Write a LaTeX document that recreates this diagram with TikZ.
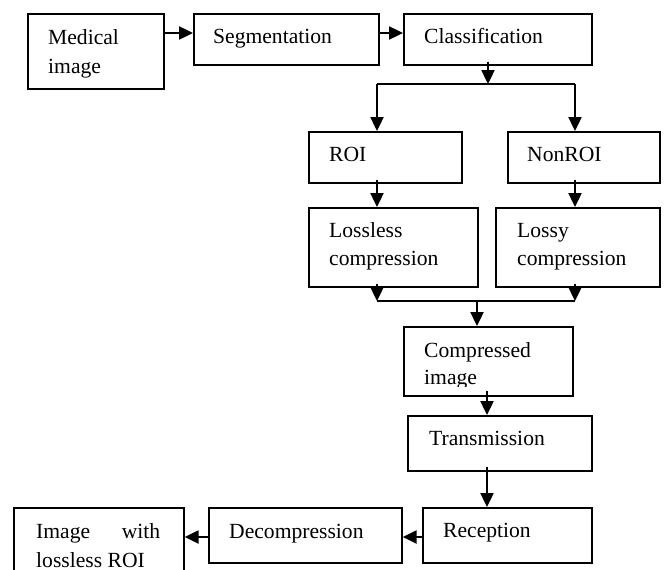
\documentclass[tikz,border=0pt]{standalone}
\usepackage{fontspec}
\setmainfont{Liberation Serif}
\usetikzlibrary{arrows.meta,calc}
\begin{document}
\begin{tikzpicture}[x=1pt,y=-1pt,
  box/.style={draw,line width=1.7pt,inner sep=0pt,anchor=north west},
  txt/.style={anchor=base west,inner sep=0pt,font=\fontsize{21.6}{28}\selectfont},
  conn/.style={line width=2.4pt},
  arr/.style={conn,-{Triangle[length=14pt,width=13pt]}}]
\useasboundingbox[fill=white] (0,0) rectangle (667,570);
% boxes
\node[box,minimum width=136pt,minimum height=75pt] (med) at (27,13) {};
\node[box,minimum width=185pt,minimum height=51pt] (seg) at (193,13) {};
\node[box,minimum width=188pt,minimum height=51pt] (cls) at (403,13) {};
\node[box,minimum width=153pt,minimum height=51pt] (roi) at (308,131) {};
\node[box,minimum width=152pt,minimum height=51pt] (nonroi) at (507,131) {};
\node[box,minimum width=169pt,minimum height=79pt] (lossless) at (308,207) {};
\node[box,minimum width=164pt,minimum height=79pt] (lossy) at (495,207) {};
\node[box,minimum width=169pt,minimum height=69pt] (comp) at (403,326) {};
\node[box,minimum width=184pt,minimum height=55pt] (trans) at (407,415) {};
\node[box,minimum width=169pt,minimum height=55pt] (rec) at (422,507) {};
\node[box,minimum width=193pt,minimum height=55pt] (dec) at (208,507) {};
\node[box,minimum width=170pt,minimum height=75pt] (out) at (13,507) {};
% texts
\node[txt] (tmed1) at (48,45) {Medical};
\node[txt] (tmed2) at (48,73) {image};
\node[txt] (tseg) at (213,43) {Segmentation};
\node[txt] (tcls) at (424,43) {Classification};
\node[txt] (troi) at (329,161) {ROI};
\node[txt] (tnon) at (527,161) {NonROI};
\node[txt] (tll1) at (329,237) {Lossless};
\node[txt] (tll2) at (329,265) {compression};
\node[txt] (tly1) at (517,237) {Lossy};
\node[txt] (tly2) at (517,265) {compression};
\begin{scope}
\clip (403,326) rectangle (572,386);
\node[txt] (tcp1) at (424,357) {Compressed};
\node[txt] (tcp2) at (424,384) {image};
\end{scope}
\node[txt] (ttr) at (429,445) {Transmission};
\node[txt] (trc) at (443,537) {Reception};
\node[txt] (tdc) at (229,538) {Decompression};
\node[txt] (tout1) at (36,538) {\makebox[124pt][s]{Image\hfill with}};
\node[txt] (tout2) at (36,567) {lossless ROI};
% junction points
\coordinate (A) at (0,33);
\coordinate (S) at (488,84);
\coordinate (L) at (377,84);
\coordinate (R) at (575,84);
\coordinate (JL) at (377,301);
\coordinate (JR) at (575,301);
\coordinate (J) at (477,301);
\coordinate (C) at (487,0);
\coordinate (B) at (0,537);
% connectors
\draw[arr] (med.east |- A) -- (seg.west |- A);
\draw[arr] (seg.east |- A) -- (cls.west |- A);
\draw[arr] ($(cls.south -| S)+(0,-4)$) -- (S);
\draw[conn] (L) -- (R);
\draw[arr] (L) -- (L |- roi.north);
\draw[arr] (R) -- (R |- nonroi.north);
\draw[arr] ($(roi.south -| L)+(0,-4)$) -- (L |- lossless.north);
\draw[arr] ($(nonroi.south -| R)+(0,-4)$) -- (R |- lossy.north);
\draw[arr] ($(lossless.south -| JL)+(0,-4)$) -- (JL);
\draw[arr] ($(lossy.south -| JR)+(0,-4)$) -- (JR);
\draw[conn] (JL) -- (JR);
\draw[arr] (J) -- (J |- comp.north);
\draw[arr] ($(comp.south -| C)+(0,-6)$) -- (C |- trans.north);
\draw[arr] ($(trans.south -| C)+(0,-5)$) -- (C |- rec.north);
\draw[arr] (rec.west |- B) -- (dec.east |- B);
\draw[arr] (dec.west |- B) -- (out.east |- B);
\end{tikzpicture}
\end{document}
